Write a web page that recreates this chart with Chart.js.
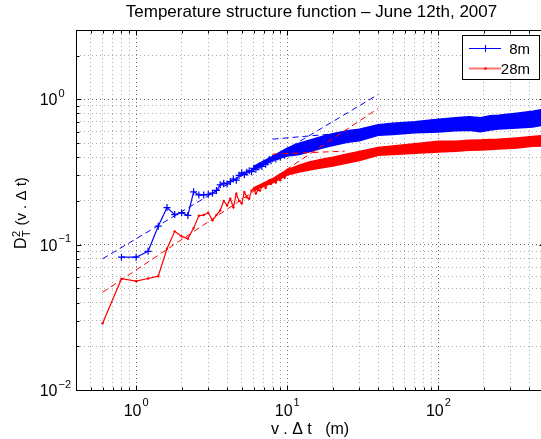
<!DOCTYPE html>
<html><head><meta charset="utf-8">
<script src="https://cdn.jsdelivr.net/npm/chart.js@4.4.1/dist/chart.umd.min.js"></script>
<style>html,body{margin:0;padding:0;background:#fff;overflow:hidden;width:541px;height:439px}canvas{display:block}</style>
</head><body><canvas id="c" width="560" height="439"></canvas>
<script>
// ---- text ----
const titleText = 'Temperature structure function \u2013 June 12th, 2007';
const xLabelText = 'v . \u0394 t   (m)';
const yLabelMain = 'D';
const yLabelSup = '2';
const yLabelSub = 'T';
const yLabelRest = ' (v . \u0394 t)';
const legendLabels = ['8m', '28m'];
const xTickExps = [0, 1, 2];
const yTickExps = [-2, -1, 0];

// ---- series: 8m (blue), sparse part ----
const blueX = [0.8,1.0,1.2,1.4,1.6,1.8,2.0,2.2,2.4,2.6,2.8,3.0,3.2,3.4,3.6,3.8,4.0,4.2,4.4,4.6,4.8,5.0,5.2,5.4,5.6,5.8,6.0,6.2,6.4,6.6,6.8,7.0,7.2,7.4,7.6,7.8,8.0,8.2,8.4,8.6,8.8,9.0,9.2,9.4,9.6,9.8,10.0];
const blueY = [0.082,0.082,0.090,0.134,0.180,0.161,0.166,0.159,0.231,0.220,0.220,0.222,0.226,0.236,0.258,0.265,0.262,0.272,0.283,0.278,0.300,0.312,0.303,0.315,0.322,0.318,0.335,0.330,0.342,0.350,0.345,0.365,0.358,0.372,0.385,0.378,0.392,0.398,0.388,0.402,0.410,0.400,0.415,0.420,0.412,0.425,0.430];
// ---- series: 28m (red), sparse part ----
const redX = [0.6,0.8,1.0,1.2,1.4,1.6,1.8,2.0,2.2,2.4,2.6,2.8,3.0,3.2,3.4,3.6,3.8,4.0,4.2,4.4,4.6,4.8,5.0,5.2,5.4,5.6,5.8,6.0,6.2,6.4,6.6,6.8,7.0,7.2,7.4,7.6,7.8,8.0,8.2,8.4,8.6,8.8,9.0,9.2,9.4,9.6,9.8,10.0];
const redY = [0.0288,0.0583,0.0561,0.0585,0.0607,0.0938,0.1235,0.1141,0.110,0.130,0.158,0.160,0.166,0.147,0.160,0.172,0.200,0.186,0.207,0.181,0.224,0.200,0.192,0.230,0.212,0.207,0.235,0.243,0.225,0.238,0.236,0.250,0.256,0.245,0.262,0.277,0.262,0.270,0.282,0.268,0.285,0.290,0.278,0.292,0.298,0.288,0.300,0.305];
// ---- dense part: envelope of the noisy band ----
const bandX = [6,8,10,12,14,17,20,25,30,40,50,70,100,130,160,190,220,250,330,420,500];
const blueUpper = [0.345,0.405,0.462,0.500,0.524,0.555,0.579,0.607,0.622,0.668,0.684,0.701,0.729,0.747,0.760,0.748,0.770,0.777,0.802,0.828,0.855];
const blueLower = [0.328,0.383,0.407,0.418,0.436,0.463,0.482,0.506,0.518,0.565,0.574,0.588,0.597,0.607,0.612,0.598,0.616,0.626,0.636,0.646,0.667];
const redUpper = [0.246,0.284,0.328,0.352,0.370,0.387,0.400,0.421,0.438,0.467,0.478,0.494,0.514,0.514,0.522,0.526,0.530,0.531,0.543,0.556,0.565];
const redLower = [0.238,0.266,0.302,0.316,0.326,0.338,0.348,0.365,0.380,0.412,0.418,0.425,0.435,0.439,0.446,0.448,0.452,0.456,0.463,0.475,0.478];
// ---- fitted power laws (dashed) ----
const fitX = [0.6, 40];
const blueFit = [0.080, 1.08];
const redFit = [0.047, 0.867];
const flatX = [8, 24];
const blueFlat = [0.532, 0.588];
const redFlat = [0.420, 0.440];

const BLUE = '#0000ff', RED = '#ff0000';
const pts = (xs, ys) => xs.map((x, i) => ({x: x, y: ys[i]}));
const isDecade = v => Math.abs(Math.log10(v) - Math.round(Math.log10(v))) < 1e-9;
function logTicks(min, max) {
  const out = [];
  for (let e = Math.floor(Math.log10(min)); e <= Math.ceil(Math.log10(max)); e++) {
    for (let k = 1; k <= 9; k++) {
      const v = +(k * Math.pow(10, e)).toPrecision(3);
      if (v >= min - 1e-12 && v <= max + 1e-12) out.push({value: v});
    }
  }
  return out;
}

const FONT = '"Liberation Sans", Arial, sans-serif';
const deco = {
  id: 'deco',
  beforeDraw(c) {
    const g = c.ctx; g.save(); g.fillStyle = '#fff'; g.fillRect(0, 0, c.width, c.height); g.restore();
  },
  afterDraw(c) {
    const g = c.ctx, a = c.chartArea, xs = c.scales.x, ys = c.scales.y;
    const L = Math.round(a.left) + 0.5, R = Math.round(a.right) + 0.5, T = Math.round(a.top) + 0.5, B = Math.round(a.bottom) + 0.5;
    g.save();
    g.strokeStyle = '#000'; g.lineWidth = 1;
    g.beginPath();
    xs.ticks.forEach(t => {
      const p = Math.round(xs.getPixelForValue(t.value)) + 0.5, len = isDecade(t.value) ? 5 : 3;
      g.moveTo(p, B); g.lineTo(p, B - len); g.moveTo(p, T); g.lineTo(p, T + len);
    });
    ys.ticks.forEach(t => {
      const p = Math.round(ys.getPixelForValue(t.value)) + 0.5, len = isDecade(t.value) ? 5 : 3;
      g.moveTo(L, p); g.lineTo(L + len, p); g.moveTo(R, p); g.lineTo(R - len, p);
    });
    g.stroke();
    g.beginPath(); g.moveTo(L, T); g.lineTo(R, T); g.lineTo(R, B); g.lineTo(L, B); g.closePath(); g.stroke();

    g.fillStyle = '#000';
    xTickExps.forEach(e => {
      const p = xs.getPixelForValue(Math.pow(10, e));
      g.font = '16px ' + FONT;
      const w1 = g.measureText('10').width;
      g.font = '11px ' + FONT;
      const sup = e < 0 ? '\u2212' + (-e) : String(e);
      const w2 = g.measureText(sup).width;
      const left = p - (w1 + 1 + w2) / 2;
      g.textAlign = 'left'; g.textBaseline = 'alphabetic';
      g.font = '16px ' + FONT;
      g.fillText('10', left, 415.5);
      g.font = '11px ' + FONT;
      g.fillText(sup, left + w1 + 1, 406);
    });
    yTickExps.forEach(e => {
      const p = ys.getPixelForValue(Math.pow(10, e));
      const sup = e < 0 ? '\u2212' + (-e) : String(e);
      g.textBaseline = 'alphabetic';
      g.font = '16px ' + FONT;
      g.textAlign = 'right'; g.fillText('10', 57.5, p + 6);
      g.font = '11px ' + FONT;
      g.textAlign = 'left'; g.fillText(sup, 58.5, p - 2.5);
    });
    g.textAlign = 'center'; g.textBaseline = 'alphabetic';
    g.font = '17px ' + FONT;
    g.fillText(titleText, 311.5, 16.5);
    g.font = '16px ' + FONT;
    g.fillText(xLabelText, 310, 434);
    g.save();
    g.translate(26, 249);
    g.rotate(-Math.PI / 2);
    g.textAlign = 'left';
    g.font = '16px ' + FONT;
    g.fillText(yLabelMain, 0, 0);
    const wD = g.measureText(yLabelMain).width;
    g.font = '11px ' + FONT;
    g.fillText(yLabelSup, wD + 0.5, -6);
    g.fillText(yLabelSub, wD + 0.5, 3.5);
    const wS = Math.max(g.measureText(yLabelSup).width, g.measureText(yLabelSub).width);
    g.font = '15px ' + FONT;
    g.fillText(yLabelRest, wD + wS + 1, 0);
    g.restore();

    // legend
    g.fillStyle = '#fff';
    g.fillRect(462.5, 35.5, 77, 44);
    g.strokeStyle = '#000'; g.lineWidth = 1;
    g.strokeRect(462.5, 35.5, 77, 44);
    g.strokeStyle = BLUE;
    g.beginPath(); g.moveTo(469, 48.5); g.lineTo(501, 48.5);
    g.moveTo(485.5, 45); g.lineTo(485.5, 52); g.moveTo(482, 48.5); g.lineTo(489, 48.5); g.stroke();
    g.strokeStyle = 'rgba(255,0,0,0.55)'; g.lineWidth = 2;
    g.beginPath(); g.moveTo(469, 68.5); g.lineTo(501, 68.5); g.stroke();
    g.fillStyle = RED; g.beginPath(); g.arc(485.5, 68.5, 1.3, 0, Math.PI * 2); g.fill();
    g.fillStyle = '#000'; g.textAlign = 'right';
    g.font = '15px ' + FONT;
    g.fillText(legendLabels[0], 530, 54);
    g.fillText(legendLabels[1], 530, 74);
    g.restore();
  }
};

const gridColor = ctx => (ctx.tick && isDecade(ctx.tick.value)) ? 'rgba(0,0,0,0.6)' : 'rgba(0,0,0,0.32)';

new Chart(document.getElementById('c'), {
  type: 'line',
  data: {
    datasets: [
      { label: legendLabels[0] + ' upper', data: pts(bandX, blueUpper), borderColor: BLUE, borderWidth: 1.5, pointRadius: 0, fill: false, order: 5 },
      { label: legendLabels[0] + ' lower', data: pts(bandX, blueLower), borderColor: BLUE, borderWidth: 1.5, pointRadius: 0, backgroundColor: BLUE, fill: '-1', order: 5 },
      { label: legendLabels[1] + ' upper', data: pts(bandX, redUpper), borderColor: RED, borderWidth: 1.5, pointRadius: 0, fill: false, order: 5 },
      { label: legendLabels[1] + ' lower', data: pts(bandX, redLower), borderColor: RED, borderWidth: 1.5, pointRadius: 0, backgroundColor: RED, fill: '-1', order: 5 },
      { label: legendLabels[0], data: pts(blueX, blueY), borderColor: BLUE, borderWidth: 1.2, pointStyle: 'cross', pointRadius: 3.5, pointBorderWidth: 1.2, pointBorderColor: BLUE, fill: false, order: 4 },
      { label: legendLabels[1], data: pts(redX, redY), borderColor: RED, borderWidth: 1.2, pointStyle: 'circle', pointRadius: 1.2, pointBorderWidth: 0, pointBackgroundColor: RED, fill: false, order: 4 },
      { label: 'fit 8m', data: pts(fitX, blueFit), borderColor: BLUE, borderWidth: 1, borderDash: [6, 4], pointRadius: 0, fill: false, order: 1 },
      { label: 'fit 28m', data: pts(fitX, redFit), borderColor: RED, borderWidth: 1, borderDash: [6, 4], pointRadius: 0, fill: false, order: 1 },
      { label: 'flat 8m', data: pts(flatX, blueFlat), borderColor: BLUE, borderWidth: 1, borderDash: [6, 4], pointRadius: 0, fill: false, order: 1 },
      { label: 'flat 28m', data: pts(flatX, redFlat), borderColor: RED, borderWidth: 1, borderDash: [6, 4], pointRadius: 0, fill: false, order: 1 }
    ]
  },
  options: {
    responsive: false, animation: false, devicePixelRatio: 1,
    layout: { padding: { left: 76, top: 30, right: 16, bottom: 49 } },
    plugins: { legend: { display: false }, title: { display: false }, tooltip: { enabled: false } },
    elements: { line: { tension: 0 } },
    scales: {
      x: { type: 'logarithmic', min: 0.4, max: 500, position: 'bottom',
           ticks: { display: false }, grid: { drawTicks: false, color: gridColor, lineWidth: 1 },
           border: { display: false, dash: [1, 3] },
           afterBuildTicks: s => { s.ticks = logTicks(0.4, 500); },
           afterFit: s => { s.height = 0; } },
      y: { type: 'logarithmic', min: 0.01, max: 3, position: 'left',
           ticks: { display: false }, grid: { drawTicks: false, color: gridColor, lineWidth: 1 },
           border: { display: false, dash: [1, 3] },
           afterBuildTicks: s => { s.ticks = logTicks(0.01, 3); },
           afterFit: s => { s.width = 0; } }
    }
  },
  plugins: [deco]
});
</script></body></html>
